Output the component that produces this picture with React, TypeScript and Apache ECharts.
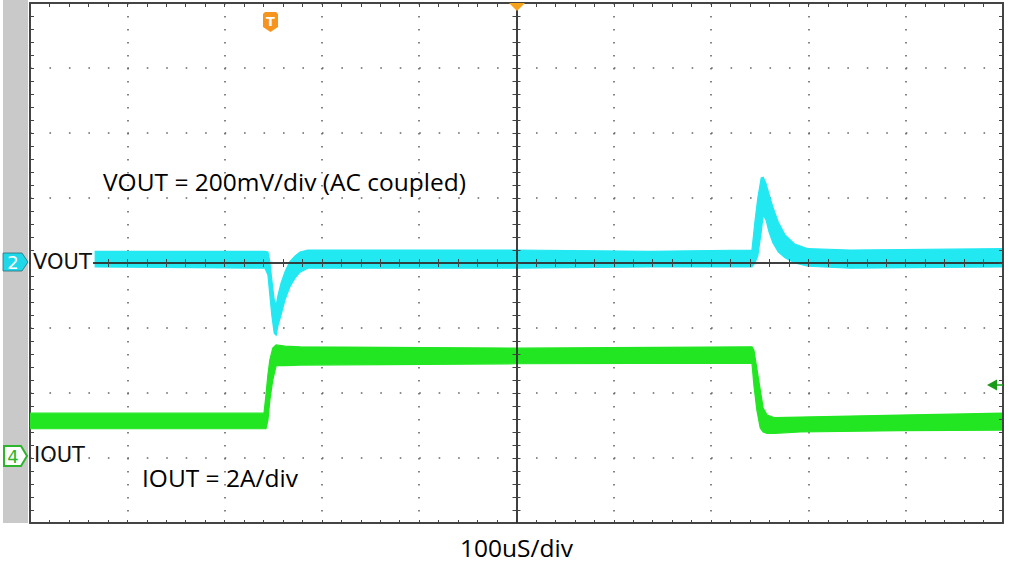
import { useEffect, useRef } from "react";
import * as echarts from "echarts";

// Time axis: 100 µs/div, 10 divisions
const xTicks = [0, 100, 200, 300, 400, 500, 600, 700, 800, 900, 1000];
// Vertical axis in divisions (8 divisions, centre = 0)
const yTicks = [-4, -3, -2, -1, 0, 1, 2, 3, 4];

// VOUT trace (channel 2): time (µs) and upper / lower envelope of the noisy trace (div)
const voutTime = [67, 241.5, 244.5, 246.5, 248.5, 251, 253, 255, 258, 262, 267, 272.5, 277.5, 285.5, 380, 500, 637, 742, 745, 748, 751.5, 753.5, 756.5, 759.5, 763.5, 769, 776, 786, 799.5, 843, 1000];
const voutUpper = [0.18, 0.18, 0.17, 0.02, -0.26, -0.57, -0.65, -0.49, -0.31, -0.14, 0.02, 0.11, 0.17, 0.2, 0.2, 0.2, 0.18, 0.2, 0.63, 1.0, 1.31, 1.32, 1.22, 1.06, 0.86, 0.63, 0.43, 0.29, 0.22, 0.2, 0.22];
const voutLower = [-0.06, -0.08, -0.18, -0.49, -0.8, -1.08, -1.11, -0.95, -0.8, -0.57, -0.37, -0.23, -0.14, -0.08, -0.08, -0.08, -0.06, -0.06, 0, 0.11, 0.48, 0.74, 0.66, 0.48, 0.31, 0.17, 0.08, 0, -0.05, -0.08, -0.06];

// IOUT trace (channel 4)
const ioutTime = [0, 240.5, 242.5, 244.5, 246.5, 249.5, 253, 262, 277.5, 500, 742, 744, 747, 750.5, 753.5, 757.5, 765.5, 791.5, 894, 1000];
const ioutUpper = [-2.31, -2.31, -2.03, -1.72, -1.49, -1.31, -1.26, -1.28, -1.29, -1.31, -1.29, -1.34, -1.62, -1.95, -2.23, -2.34, -2.38, -2.37, -2.34, -2.31];
const ioutLower = [-2.55, -2.55, -2.55, -2.42, -2.11, -1.8, -1.58, -1.58, -1.57, -1.55, -1.54, -1.88, -2.26, -2.54, -2.6, -2.62, -2.62, -2.6, -2.58, -2.57];

const VOUT_COLOR = "#22e8f2";
const IOUT_COLOR = "#22e622";

const bandSeries = (name: string, t: number[], up: number[], lo: number[], color: string) => ({
  name,
  type: "custom",
  xAxisIndex: 0,
  yAxisIndex: 0,
  z: 2,
  data: [[t[0], up[0]]],
  clip: true,
  renderItem: (_params: any, api: any) => {
    const top = t.map((x, i) => api.coord([x, up[i]]));
    const bot = t.map((x, i) => api.coord([x, lo[i]])).reverse();
    return {
      type: "polygon",
      shape: { points: top.concat(bot) },
      style: { fill: color, stroke: color, lineWidth: 1.2 },
    };
  },
});

export default function App() {
  const ref = useRef<HTMLDivElement>(null);
  useEffect(() => {
    document.body.style.margin = "0";
    const chart = echarts.init(ref.current!, null, { renderer: "svg" });
    const borderLine = { show: true, onZero: false, lineStyle: { color: "#444", width: 2 } };
    const centerLine = { show: true, onZero: false, lineStyle: { color: "#333", width: 1.5 } };
    const tick = (inside: boolean, len: number) => ({ show: true, inside, length: len, lineStyle: { color: "#444", width: 1 } });
    const minor = (len: number) => ({ show: true, splitNumber: 5, length: len, lineStyle: { color: "#444", width: 1 } });
    const xBase = { type: "value", min: xTicks[0], max: xTicks[xTicks.length - 1], interval: 100, axisLabel: { show: false }, splitLine: { show: false } };
    const yBase = { type: "value", min: yTicks[0], max: yTicks[yTicks.length - 1], interval: 1, axisLabel: { show: false }, splitLine: { show: false } };
    chart.setOption({
      animation: false,
      backgroundColor: "#ffffff",
      grid: { left: 30, right: 7, top: 3, bottom: 55, containLabel: false, outerBoundsMode: "none" },
      xAxis: [
        {
          ...xBase,
          position: "bottom",
          z: 0,
          axisLine: borderLine,
          axisTick: tick(true, 3),
          minorTick: minor(3),
          splitLine: { show: true, lineStyle: { color: "#666", width: 1.6, type: [1.6, 11.4] } },
        },
        { ...xBase, position: "top", z: 5, axisLine: borderLine, axisTick: tick(true, 4), minorTick: minor(4) },
        { ...xBase, position: "bottom", offset: -260, z: 5, axisLine: centerLine, axisTick: tick(false, 4), minorTick: minor(4) },
        { ...xBase, position: "top", offset: -260, z: 5, axisLine: centerLine, axisTick: tick(false, 4), minorTick: minor(4) },
      ],
      yAxis: [
        {
          ...yBase,
          position: "left",
          z: 0,
          axisLine: borderLine,
          axisTick: tick(true, 4),
          minorTick: minor(4),
          splitLine: { show: true, lineStyle: { color: "#666", width: 1.6, type: [1.6, 17.86] } },
        },
        { ...yBase, position: "right", z: 5, axisLine: borderLine, axisTick: tick(true, 4), minorTick: minor(4) },
        { ...yBase, position: "left", offset: -486.5, z: 5, axisLine: centerLine, axisTick: tick(false, 4), minorTick: minor(4) },
        { ...yBase, position: "right", offset: -486.5, z: 5, axisLine: centerLine, axisTick: tick(false, 4), minorTick: minor(4) },
      ],
      series: [
        bandSeries("IOUT", ioutTime, ioutUpper, ioutLower, IOUT_COLOR),
        bandSeries("VOUT", voutTime, voutUpper, voutLower, VOUT_COLOR),
      ],
      graphic: [
        { type: "rect", z: 1, shape: { x: 3, y: 0, width: 25, height: 523 }, style: { fill: "#c9c9c9" } },
        // VOUT channel marker
        { type: "rect", z: 6, shape: { x: 31, y: 255, width: 62, height: 16 }, style: { fill: "#ffffff" } },
        { type: "polygon", z: 6, shape: { points: [[3, 253], [22, 253], [28, 262], [22, 271], [3, 271]] }, style: { fill: "#1ed8ea", stroke: "#2a6f7a", lineWidth: 0.8 } },
        { type: "text", z: 7, x: 13, y: 262, style: { text: "2", fill: "#ffffff", font: "18px 'DejaVu Sans'", align: "center", verticalAlign: "middle" } },
        { type: "text", z: 7, x: 33, y: 262, style: { text: "VOUT", fill: "#111", font: "21px 'DejaVu Sans'", align: "left", verticalAlign: "middle" } },
        // IOUT channel marker
        { type: "polygon", z: 6, shape: { points: [[4, 446], [21, 446], [27, 456], [21, 466], [4, 466]] }, style: { fill: "#ffffff", stroke: "#2db52d", lineWidth: 2 } },
        { type: "text", z: 7, x: 13, y: 456, style: { text: "4", fill: "#2db52d", font: "18px 'DejaVu Sans'", align: "center", verticalAlign: "middle" } },
        { type: "text", z: 7, x: 34, y: 455, style: { text: "IOUT", fill: "#111", font: "21px 'DejaVu Sans'", align: "left", verticalAlign: "middle" } },
        // Trigger markers
        { type: "polygon", z: 6, shape: { points: [[263, 14], [265, 12], [276, 12], [278, 14], [278, 27], [270.5, 32], [263, 27]] }, style: { fill: "#f7941d" } },
        { type: "text", z: 7, x: 270.5, y: 21, style: { text: "T", fill: "#ffffff", font: "bold 13px 'DejaVu Sans'", align: "center", verticalAlign: "middle" } },
        { type: "polygon", z: 6, shape: { points: [[509, 3], [525, 3], [517, 11]] }, style: { fill: "#f7a21b" } },
        { type: "polygon", z: 6, shape: { points: [[987, 385], [997, 379.5], [997, 390.5]] }, style: { fill: "#1a9a1a" } },
        { type: "line", z: 6, shape: { x1: 996, y1: 385, x2: 1003, y2: 385 }, style: { stroke: "#1a9a1a", lineWidth: 1.5 } },
        // Annotations
        { type: "text", z: 7, x: 103, y: 181, style: { text: "VOUT = 200mV/div (AC coupled)", fill: "#000", font: "24.5px 'Open Sans'", align: "left", verticalAlign: "middle" } },
        { type: "text", z: 7, x: 142, y: 477, style: { text: "IOUT = 2A/div", fill: "#000", font: "24.5px 'Open Sans'", align: "left", verticalAlign: "middle" } },
        { type: "text", z: 7, x: 460, y: 547, style: { text: "100uS/div", fill: "#000", font: "24.5px 'Open Sans'", align: "left", verticalAlign: "middle" } },
      ],
    });
    return () => chart.dispose();
  }, []);
  return <div ref={ref} style={{ width: 1010, height: 578 }} />;
}
